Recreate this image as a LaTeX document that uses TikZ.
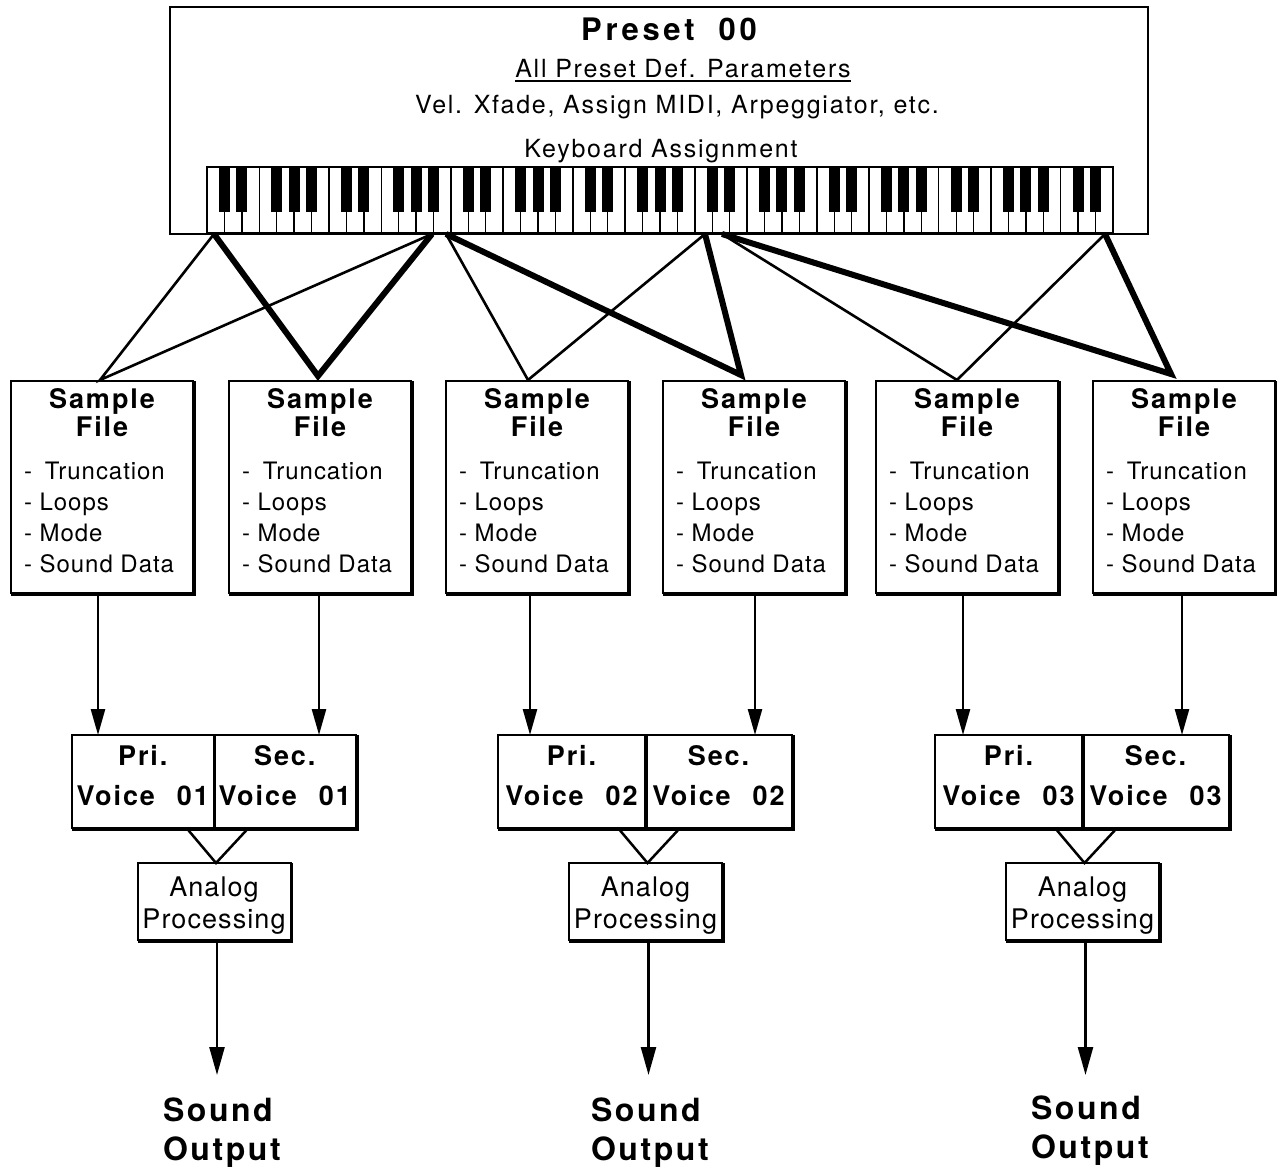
\documentclass[tikz,border=0pt]{standalone}
\usepackage{fontspec}
\setmainfont{TeX Gyre Heros}
\newfontfamily\fTop[LetterSpace=7]{TeX Gyre Heros}
\newfontfamily\fItem[LetterSpace=4]{TeX Gyre Heros}
\newfontfamily\fBold[LetterSpace=7]{TeX Gyre Heros}
\newfontfamily\fBig[LetterSpace=12]{TeX Gyre Heros}
\newfontfamily\fOut[LetterSpace=8]{TeX Gyre Heros}
\usetikzlibrary{arrows.meta,calc}
\begin{document}
\begin{tikzpicture}[x=1pt,y=-1pt,
  box/.style={draw, line width=2pt, inner sep=0pt, outer sep=0pt, rectangle},
  txt/.style={inner sep=0pt, outer sep=0pt},
  wthin/.style={line width=2.6pt, line join=miter},
  wthick/.style={line width=6pt, line join=miter},
  arr/.style={line width=2.5pt, -{Triangle[width=14pt,length=26pt]}},
  arrb/.style={line width=2.5pt, -{Triangle[width=15pt,length=28pt]}},
  vline/.style={line width=2.5pt, line join=miter},
  toptxt/.style={txt, anchor=base, font=\fTop\fontsize{25}{30}\selectfont},
  titletxt/.style={txt, anchor=base, font=\fBold\bfseries\fontsize{27}{30}\selectfont},
  itemtxt/.style={txt, anchor=base west, font=\fItem\fontsize{24}{28}\selectfont},
  voicetxt/.style={txt, anchor=base, font=\fBold\bfseries\fontsize{27}{30}\selectfont},
  antxt/.style={txt, anchor=base, font=\fItem\fontsize{27}{30}\selectfont},
  outtxt/.style={txt, anchor=base west, font=\fOut\bfseries\fontsize{32}{39}\selectfont},
]
\useasboundingbox[fill=white] (0,0) rectangle (1277,1170);

% ---------- preset box ----------
\node[box, minimum width=978pt, minimum height=227pt] (preset) at (659,120.5) {};
\node[txt, anchor=base, font=\fBig\bfseries\fontsize{31}{36}\selectfont] (title) at (669,40) {Preset\hspace{24pt}00};
\node[toptxt] (allp) at (683,77) {All Preset Def. Parameters};
\draw[line width=1.8pt] ([yshift=-4pt]allp.base west) -- ([yshift=-4pt]allp.base east);
\node[toptxt] (vel) at (677,113) {Vel. Xfade, Assign MIDI, Arpeggiator, etc.};
\node[toptxt] (kbl) at (661,157) {Keyboard Assignment};

% ---------- keyboard ----------
\node[draw, line width=2pt, inner sep=0pt, outer sep=0pt, minimum width=906pt, minimum height=66pt] (kb) at (660,200) {};
\pgfmathsetmacro\kw{906/52}
\foreach \k in {1,...,51} {
  \draw[line width=1.4pt] ({207+\k*\kw},167) -- ({207+\k*\kw},233);
}
\foreach \k in {1,...,51} {
  \pgfmathtruncatemacro\m{mod(\k-1,7)}
  \ifnum\m=2 \else \ifnum\m=6 \else
    \fill ({207+\k*\kw-5.5},167) rectangle ({207+\k*\kw+5.5},212);
  \fi\fi
}

% ---------- sample file boxes ----------
\foreach \i/\cx in {1/102,2/320,3/537,4/754,5/967,6/1184} {
  \node[box, minimum width=182pt, minimum height=212pt] (sf\i) at (\cx,487) {};
  \node[titletxt] (sf\i a) at (\cx,408) {Sample};
  \node[titletxt] (sf\i b) at (\cx,436) {File};
  \node[itemtxt] (sf\i c) at ({\cx-78},479) {-\hspace{13pt}Truncation};
  \node[itemtxt] (sf\i d) at ({\cx-78},510) {- Loops};
  \node[itemtxt] (sf\i e) at ({\cx-78},541) {- Mode};
  \node[itemtxt] (sf\i f) at ({\cx-78},572) {- Sound Data};
}

% ---------- voice boxes and analog processing ----------
\foreach \g/\l/\d/\r/\n in {1/72/213.5/356/01, 2/498/645/792/02, 3/935/1082/1229/03} {
  \pgfmathsetmacro\wa{\d-\l}
  \pgfmathsetmacro\wb{\r-\d}
  \pgfmathsetmacro\ca{(\l+\d)/2}
  \pgfmathsetmacro\cb{(\d+\r)/2}
  \node[box, minimum width=\wa pt, minimum height=93pt] (pri\g) at (\ca,781.5) {};
  \node[box, minimum width=\wb pt, minimum height=93pt] (sec\g) at (\cb,781.5) {};
  \node[voicetxt] (pri\g a) at (\ca,765) {Pri.};
  \node[voicetxt] (pri\g b) at (\ca,805) {Voice\hspace{22pt}\n};
  \node[voicetxt] (sec\g a) at (\cb,765) {Sec.};
  \node[voicetxt] (sec\g b) at (\cb,805) {Voice\hspace{22pt}\n};
  \node[box, minimum width=153pt, minimum height=77pt] (an\g) at ({\d+0.5},901.5) {};
  \node[antxt] (an\g a) at ({\d+0.5},896) {Analog};
  \node[antxt] (an\g b) at ({\d+0.5},928) {Processing};
  \draw[vline] ($(pri\g.south east)+(-27,0)$) -- ($(an\g.north)+(2,0)$) -- ($(pri\g.south east)+(35,0)$);
  \draw[arrb] ($(an\g.south)+(3,0)$) -- ($(an\g.south)+(3,135)$);
}

% drop-shadow edges
\foreach \n in {sf1,sf2,sf3,sf4,sf5,sf6,pri1,sec1,pri2,sec2,pri3,sec3,an1,an2,an3} {
  \draw[line width=2.5pt] ([xshift=1.5pt]\n.north east) -- ([xshift=1.5pt,yshift=-1.5pt]\n.south east) -- ([yshift=-1.5pt]\n.south west);
}

% ---------- keyboard to sample files ----------
\coordinate (k1) at (214,234);
\coordinate (k2) at (432,234);
\coordinate (k3) at (446,234);
\coordinate (k4) at (705,234);
\coordinate (k5) at (722,234);
\coordinate (k6) at (1105,234);
\coordinate (p1) at (100,380);
\coordinate (p2) at (318,376);
\coordinate (p3) at (528,380);
\coordinate (p4) at (741,375);
\coordinate (p5) at (957,380);
\coordinate (p6) at (1171,374);
\draw[wthin] (k1) -- (p1) -- (k2);
\draw[wthick] (k1) -- (p2) -- (k2);
\draw[wthin] (k3) -- (p3) -- (k4);
\draw[wthick] (k3) -- (p4) -- (k4);
\draw[wthin] (k5) -- (p5) -- (k6);
\draw[wthick] (k5) -- (p6) -- (k6);

% ---------- sample files to voices ----------
\foreach \s/\v/\dx in {1/pri1/-4, 2/sec1/-1, 3/pri2/-7, 4/sec2/1, 5/pri3/-4, 6/sec3/-2} {
  \draw[arr] ($(sf\s.south)+(\dx,0)$) -- ($(sf\s.south |- \v.north)+(\dx,0)$);
}

% ---------- sound outputs ----------
\node[outtxt] (out1a) at (163,1121) {Sound};
\node[outtxt] (out1b) at (163,1160) {Output};
\node[outtxt] (out2a) at (591,1121) {Sound};
\node[outtxt] (out2b) at (591,1160) {Output};
\node[outtxt] (out3a) at (1031,1119) {Sound};
\node[outtxt] (out3b) at (1031,1158) {Output};
\end{tikzpicture}
\end{document}
